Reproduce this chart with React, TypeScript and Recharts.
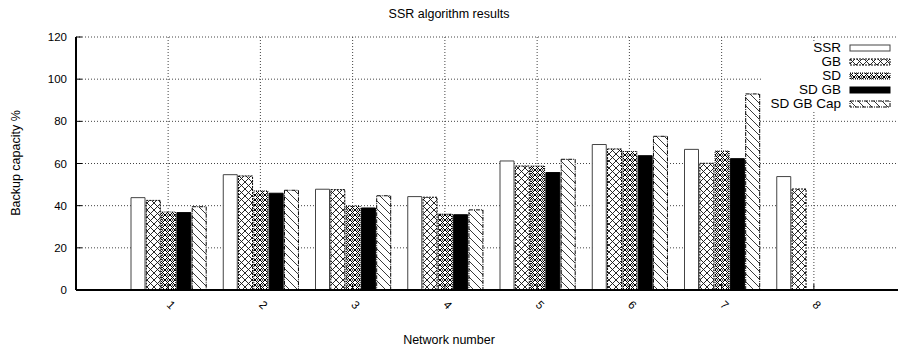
import React from 'react';
import { BarChart, Bar, XAxis, YAxis, CartesianGrid } from 'recharts';

const networks = ['1', '2', '3', '4', '5', '6', '7', '8'];
const ssr = [43.8, 54.7, 47.8, 44.3, 61.2, 69.0, 66.7, 53.8];
const gb = [42.5, 54.1, 47.6, 44.0, 58.8, 66.9, 60.1, 47.9];
const sd = [37.0, 47.0, 39.8, 36.0, 58.8, 65.7, 65.9, null];
const sdGb = [36.7, 45.9, 38.9, 35.7, 55.7, 63.7, 62.3, null];
const sdGbCap = [39.5, 47.3, 44.7, 38.0, 62.0, 72.9, 93.0, null];
const yTicks = [0, 20, 40, 60, 80, 100, 120];

const seriesNames = ['SSR', 'GB', 'SD', 'SD GB', 'SD GB Cap'];
const seriesKeys = ['ssr', 'gb', 'sd', 'sdGb', 'sdGbCap'];

const data = networks.map((n, i) => ({
  net: n,
  ssr: ssr[i],
  gb: gb[i],
  sd: sd[i],
  sdGb: sdGb[i],
  sdGbCap: sdGbCap[i],
}));

const styles: Record<string, { fill: string; stroke: string; dash?: string }> = {
  ssr: { fill: '#ffffff', stroke: '#444444' },
  gb: { fill: 'url(#pGB)', stroke: '#000000', dash: '2 1' },
  sd: { fill: 'url(#pSD)', stroke: '#000000', dash: '1 1' },
  sdGb: { fill: '#000000', stroke: '#000000' },
  sdGbCap: { fill: 'url(#pCap)', stroke: '#000000', dash: '4 1 1 1' },
};

const FONT = '"Liberation Sans", Arial, Helvetica, sans-serif';

const YTick = (props: any) => {
  const { x, y, payload } = props;
  return (
    <g>
      <line x1={x} y1={y} x2={x + 6} y2={y} stroke="#000" strokeWidth={1} />
      <text x={x - 9} y={y} dy="0.35em" textAnchor="end" fontSize={11.5} fontFamily={FONT} fill="#000">
        {payload.value}
      </text>
    </g>
  );
};

const XTick = (props: any) => {
  const { x, y, payload } = props;
  return (
    <g>
      <line x1={x} y1={y} x2={x} y2={y - 6} stroke="#000" strokeWidth={1} />
      <text
        x={0}
        y={0}
        textAnchor="middle"
        dominantBaseline="central"
        fontSize={11.5}
        fontFamily={FONT}
        fill="#000"
        transform={`translate(${x + 3},${y + 15}) rotate(45)`}
      >
        {payload.value}
      </text>
    </g>
  );
};

const TopTick = (props: any) => {
  const { x, y } = props;
  return <line x1={x} y1={y} x2={x} y2={y + 6} stroke="#000" strokeWidth={1} />;
};

export default function App() {
  return (
    <div
      style={{
        position: 'absolute',
        left: 0,
        top: 0,
        width: 898,
        height: 352,
        overflow: 'hidden',
        background: '#fff',
        fontFamily: FONT,
      }}
    >
      <svg width={0} height={0} style={{ position: 'absolute' }}>
        <defs>
          <pattern id="pGB" width={7} height={7} patternUnits="userSpaceOnUse">
            <rect width={7} height={7} fill="#fff" />
            <path d="M0,0 L7,7 M7,0 L0,7" stroke="#111" strokeWidth={0.9} fill="none" />
          </pattern>
          <pattern id="pSD" width={5} height={5} patternUnits="userSpaceOnUse">
            <rect width={5} height={5} fill="#fff" />
            <path d="M0,0 L5,5 M5,0 L0,5" stroke="#000" strokeWidth={1} fill="none" />
            <circle cx={2.5} cy={0} r={0.8} fill="#000" />
            <circle cx={2.5} cy={5} r={0.8} fill="#000" />
          </pattern>
          <pattern id="pCap" width={8} height={8} patternUnits="userSpaceOnUse">
            <rect width={8} height={8} fill="#fff" />
            <path d="M0,0 L8,8" stroke="#222" strokeWidth={0.9} fill="none" />
          </pattern>
        </defs>
      </svg>

      <BarChart
        width={910}
        height={352}
        data={data}
        margin={{ top: 37, right: 3, bottom: 0, left: 0 }}
        barGap={1.3}
        barCategoryGap={0}
      >
        <CartesianGrid stroke="#444" strokeDasharray="1 2" strokeWidth={1} />
        <XAxis
          dataKey="net"
          padding={{ left: 46, right: 47 }}
          axisLine={{ stroke: '#000', strokeWidth: 2 }}
          tickLine={false}
          tickSize={0}
          tickMargin={0}
          tick={<XTick />}
          interval={0}
          height={62}
        />
        <XAxis
          xAxisId="top"
          orientation="top"
          dataKey="net"
          padding={{ left: 46, right: 47 }}
          axisLine={{ stroke: '#000', strokeWidth: 2 }}
          tickLine={false}
          tickSize={0}
          tickMargin={0}
          tick={<TopTick />}
          interval={0}
          height={0}
        />
        <YAxis
          domain={[0, 120]}
          ticks={yTicks}
          width={76}
          axisLine={{ stroke: '#000', strokeWidth: 2 }}
          tickLine={false}
          tickSize={0}
          tickMargin={0}
          tick={<YTick />}
          interval={0}
        />
        {seriesKeys.map((k, i) => (
          <Bar
            key={k}
            dataKey={k}
            name={seriesNames[i]}
            barSize={14}
            fill={styles[k].fill}
            stroke={styles[k].stroke}
            strokeWidth={1}
            strokeDasharray={styles[k].dash}
            isAnimationActive={false}
          />
        ))}
      </BarChart>

      <div
        style={{
          position: 'absolute',
          left: 0,
          top: 6,
          width: 898,
          textAlign: 'center',
          fontSize: 12.5,
          lineHeight: '16px',
          color: '#000',
        }}
      >
        SSR algorithm results
      </div>
      <div
        style={{
          position: 'absolute',
          left: 0,
          top: 332,
          width: 898,
          textAlign: 'center',
          fontSize: 12.5,
          lineHeight: '16px',
          color: '#000',
        }}
      >
        Network number
      </div>
      <div
        style={{
          position: 'absolute',
          left: 16,
          top: 163,
          transform: 'translate(-50%, -50%) rotate(-90deg)',
          whiteSpace: 'nowrap',
          fontSize: 12.5,
          lineHeight: '16px',
          color: '#000',
        }}
      >
        Backup capacity %
      </div>

      <div
        style={{
          position: 'absolute',
          left: 763,
          top: 41,
          width: 135,
          height: 71,
          background: '#fff',
        }}
      >
        {seriesKeys.map((k, i) => (
          <div
            key={k}
            style={{
              position: 'absolute',
              left: 0,
              top: 7 + 14 * i - 7,
              height: 14,
              width: 135,
            }}
          >
            <div
              style={{
                position: 'absolute',
                left: 0,
                top: 0,
                width: 78,
                textAlign: 'right',
                fontSize: 13.5,
                lineHeight: '14px',
                whiteSpace: 'nowrap',
                color: '#000',
              }}
            >
              {seriesNames[i]}
            </div>
            <svg style={{ position: 'absolute', left: 86, top: 3 }} width={42} height={9}>
              <rect
                x={1}
                y={1}
                width={40}
                height={6}
                fill={styles[k].fill}
                stroke={styles[k].stroke}
                strokeWidth={1}
                strokeDasharray={styles[k].dash}
              />
            </svg>
          </div>
        ))}
      </div>
    </div>
  );
}
